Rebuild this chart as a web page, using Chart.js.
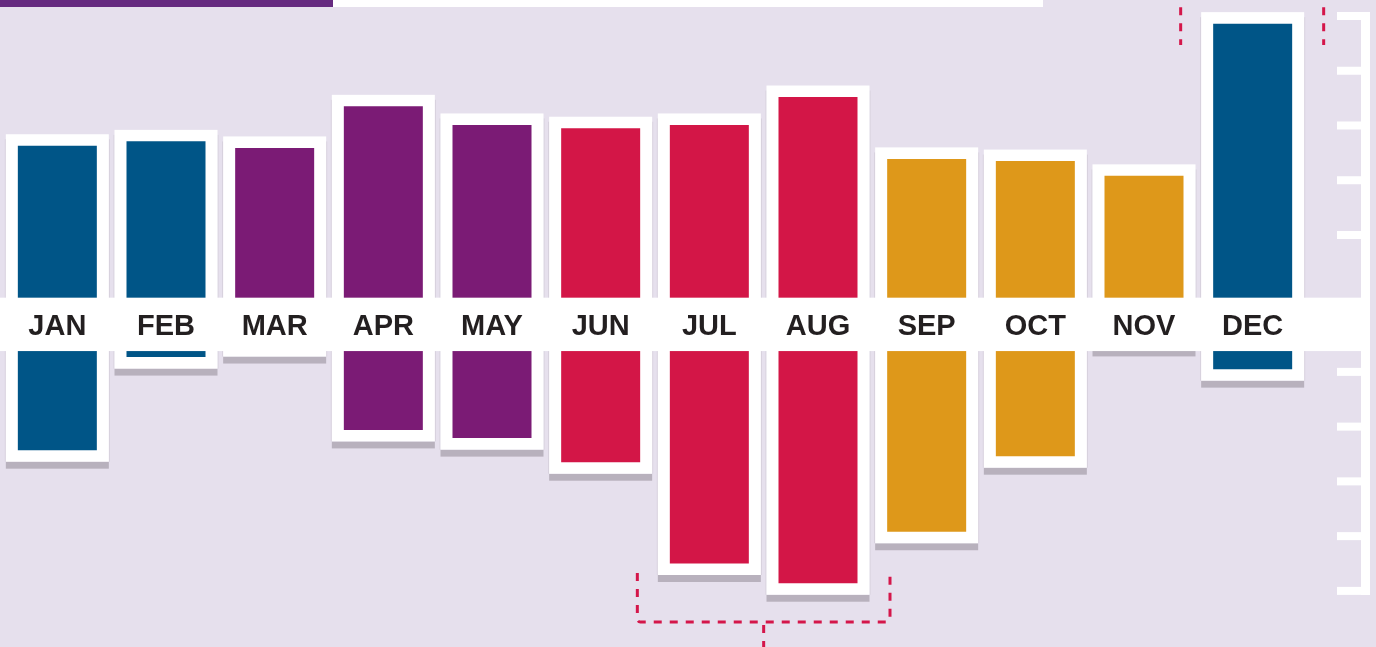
<!DOCTYPE html>
<html>
<head>
<meta charset="utf-8">
<title>Monthly bars</title>
<script src="https://cdn.jsdelivr.net/npm/chart.js@4.4.1/dist/chart.umd.min.js"></script>
<style>
    html, body { margin: 0; padding: 0; background: #e6e0ed; overflow: hidden; }
    #wrap { position: relative; width: 1376px; height: 647px; }
</style>
</head>
<body>
<div id="wrap"><canvas id="monthChart"></canvas></div>
<script>
const months = ["JAN", "FEB", "MAR", "APR", "MAY", "JUN", "JUL", "AUG", "SEP", "OCT", "NOV", "DEC"];
const highValues = [16.3, 17.1, 15.9, 23.5, 20.1, 19.5, 20.1, 25.2, 13.9, 13.5, 10.8, 38.6];
const lowValues = [-39.3, -22.3, -20.1, -35.6, -37.1, -41.5, -60.0, -63.6, -54.2, -40.4, -18.8, -24.5];
const seasons = ["winter", "winter", "spring", "spring", "spring", "summer", "summer", "summer", "autumn", "autumn", "autumn", "winter"];
const axisTicks = [40, 30, 20, 10, 0, -25, -35, -45, -55, -65];
const bracketBelow = ["JUL", "AUG"];
const bracketAbove = ["DEC"];

const seasonColors = {
    winter: "#005587",
    spring: "#7b1b75",
    summer: "#d31647",
    autumn: "#de981a"
};

// white card + grey drop shadow behind every bar, then label band, axis and brackets on top
const decorPlugin = {
    id: "decor",
    beforeDatasetsDraw(chart) {
        const ctx = chart.ctx;
        const meta = chart.getDatasetMeta(0);
        ctx.save();
        meta.data.forEach(bar => {
            const p = bar.getProps(["x", "y", "base", "width"], true);
            const left = p.x - p.width / 2 - 12;
            const right = p.x + p.width / 2 + 12;
            const top = Math.min(p.y, p.base) - 11.5;
            const bottom = Math.max(p.y, p.base) + 11.5;
            ctx.fillStyle = "#b8b1bd";
            ctx.fillRect(left, bottom, right - left, 7);
            ctx.fillStyle = "#d5cfdc";
            ctx.fillRect(left - 1, top + 5, 1, bottom - top - 5);
            ctx.fillRect(right, top + 5, 1, bottom - top - 5);
            ctx.fillStyle = "#ffffff";
            ctx.fillRect(left, top, right - left, bottom - top);
        });
        ctx.restore();
    },
    afterDatasetsDraw(chart) {
        const ctx = chart.ctx;
        const xs = chart.scales.x;
        const ys = chart.scales.y;
        const W = chart.width;
        const lineRight = W - 6;
        const lineLeft = lineRight - 9;

        ctx.save();

        // label band
        const bandTop = ys.getPixelForValue(-11.45);
        const bandBottom = ys.getPixelForValue(-21.2);
        ctx.fillStyle = "#ffffff";
        ctx.fillRect(0, bandTop, lineLeft, bandBottom - bandTop);

        ctx.font = "bold 29px 'Liberation Sans', Arial, sans-serif";
        ctx.fillStyle = "#231f20";
        ctx.textAlign = "center";
        ctx.textBaseline = "alphabetic";
        const baseline = (bandTop + bandBottom) / 2 + 10.5;
        months.forEach((m, i) => {
            ctx.fillText(m, xs.getPixelForValue(i), baseline);
        });

        // right axis with inward ticks
        const tickPx = axisTicks.map(v => ys.getPixelForValue(v));
        const yTop = Math.min(...tickPx) - 4;
        const yBot = Math.max(...tickPx) + 4;
        ctx.fillStyle = "#ffffff";
        ctx.fillRect(lineLeft, yTop, lineRight - lineLeft, yBot - yTop);
        tickPx.forEach(py => {
            ctx.fillRect(lineLeft - 24, py - 4, 24 + (lineRight - lineLeft), 8);
        });

        // dashed brackets
        ctx.strokeStyle = "#d4164a";
        ctx.lineWidth = 3;
        ctx.setLineDash([8, 8]);

        const bi = bracketBelow.map(m => months.indexOf(m));
        const bl = xs.getPixelForValue(Math.min(...bi)) - 72;
        const br = xs.getPixelForValue(Math.max(...bi)) + 72;
        const bTop = 573, bY = 622, r = 3;
        ctx.beginPath();
        ctx.moveTo(bl, bTop);
        ctx.lineTo(bl, bY - r);
        ctx.arcTo(bl, bY, bl + r, bY, r);
        ctx.lineTo(br - r, bY);
        ctx.arcTo(br, bY, br, bY - r, r);
        ctx.lineTo(br, bTop);
        ctx.stroke();
        const mid = (bl + br) / 2;
        ctx.beginPath();
        ctx.moveTo(mid, bY + 3);
        ctx.lineTo(mid, chart.height + 4);
        ctx.stroke();

        const ai = bracketAbove.map(m => months.indexOf(m));
        const al = xs.getPixelForValue(Math.min(...ai)) - 72;
        const ar = xs.getPixelForValue(Math.max(...ai)) + 71;
        [al, ar].forEach(x => {
            ctx.beginPath();
            ctx.moveTo(x, -8.7);
            ctx.lineTo(x, 45);
            ctx.stroke();
        });
        ctx.setLineDash([]);

        // top strip
        ctx.fillStyle = "#662a80";
        ctx.fillRect(0, 0, 333, 7);
        ctx.fillStyle = "#ffffff";
        ctx.fillRect(333, 0, 710, 7);

        ctx.restore();
    }
};

const ctx = document.getElementById("monthChart").getContext("2d");
new Chart(ctx, {
    type: "bar",
    data: {
        labels: months,
        datasets: [{
            data: months.map((m, i) => [lowValues[i], highValues[i]]),
            backgroundColor: seasons.map(s => seasonColors[s]),
            borderWidth: 0,
            barPercentage: 0.727,
            categoryPercentage: 1
        }]
    },
    options: {
        responsive: true,
        maintainAspectRatio: false,
        animation: false,
        layout: { padding: { left: 3, right: 69, top: 0, bottom: 0 } },
        plugins: {
            legend: { display: false },
            tooltip: { enabled: false }
        },
        scales: {
            x: { type: "category", display: false, offset: true },
            y: { type: "linear", display: false, min: -75.25, max: 42.92 }
        }
    },
    plugins: [decorPlugin]
});
</script>
</body>
</html>
